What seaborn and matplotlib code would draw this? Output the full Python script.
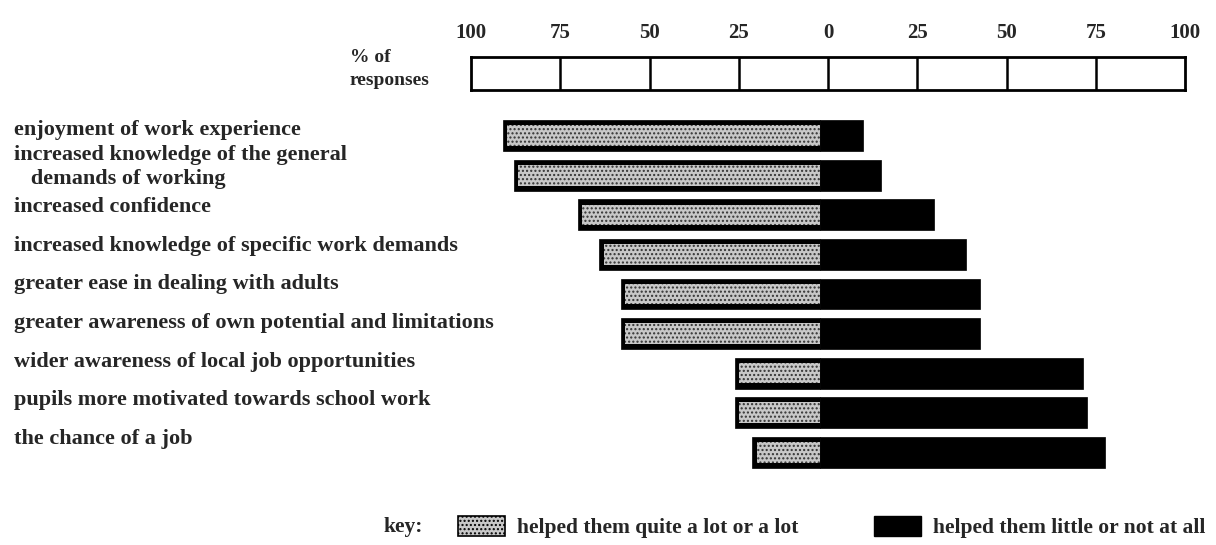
import numpy as np
import pandas as pd
import matplotlib
matplotlib.use("Agg")
import matplotlib.pyplot as plt
import matplotlib.transforms as mtransforms
from matplotlib.patches import Patch
import seaborn as sns

# % of responses per item
items = [
    "enjoyment of work experience",
    "increased knowledge of the general\n   demands of working",
    "increased confidence",
    "increased knowledge of specific work demands",
    "greater ease in dealing with adults",
    "greater awareness of own potential and limitations",
    "wider awareness of local job opportunities",
    "pupils more motivated towards school work",
    "the chance of a job",
]
helped_lot = [89, 86, 68, 62, 56, 56, 24, 24, 19]      # light, drawn to the left
helped_little = [12, 17, 32, 41, 45, 45, 74, 75, 80]   # black, drawn to the right
scale_ticks = [-100, -75, -50, -25, 0, 25, 50, 75, 100]
key_labels = ["helped them quite a lot or a lot", "helped them little or not at all"]

df = pd.DataFrame({"item": items, "lot": helped_lot, "little": helped_little})
df["lot_neg"] = -df["lot"]
df["lot_inner"] = -(df["lot"] - 1.2)

sns.set_style("white")
plt.rcParams["font.family"] = ["Liberation Serif", "DejaVu Serif"]
plt.rcParams["font.weight"] = "bold"
plt.rcParams["hatch.linewidth"] = 1.0

fig = plt.figure(figsize=(12.16, 5.45), dpi=100)
W, H = 1216, 545

# main bar axes
x0, x1 = 464, 1176
ax = fig.add_axes([x0 / W, 1 - 472 / H, (x1 - x0) / W, (472 - 116) / H])
sns.barplot(data=df, x="lot_neg", y="item", orient="h", color="black",
            saturation=1, width=0.78, ax=ax, edgecolor="black", linewidth=0.5)
sns.barplot(data=df, x="little", y="item", orient="h", color="black",
            saturation=1, width=0.78, ax=ax, edgecolor="black", linewidth=0.5)
sns.barplot(data=df, x="lot_inner", y="item", orient="h", color="#c8c8c8",
            saturation=1, width=0.52, ax=ax, edgecolor="#333333", linewidth=0,
            hatch="....")
ax.set_xlim(-100, 100)
ax.set_xlabel("")
ax.set_ylabel("")
ax.set_xticks([])
ax.set_yticks([])
for s in ax.spines.values():
    s.set_visible(False)

# item labels, left aligned at the page edge (scan drifts slightly upward)
trans = mtransforms.blended_transform_factory(fig.transFigure, ax.transData)
for i, name in enumerate(items):
    off = -(0.15 + 0.023 * i)
    if "\n" in name:
        off -= 0.03
    ax.text(14 / W, i + off, name, transform=trans, ha="left", va="center",
            fontsize=16, fontweight="bold", linespacing=1.25)

# scale box on top
axs = fig.add_axes([471 / W, 1 - 90 / H, (1185 - 471) / W, 33 / H])
axs.set_xlim(-100, 100)
axs.set_ylim(0, 1)
for t in scale_ticks[1:-1]:
    axs.axvline(t, color="black", lw=1.8)
axs.set_yticks([])
axs.set_xticks(scale_ticks)
axs.set_xticklabels([str(abs(t)) for t in scale_ticks], fontsize=15, fontweight="bold")
axs.xaxis.tick_top()
axs.tick_params(axis="x", length=0, pad=10)
for s in axs.spines.values():
    s.set_linewidth(2)
    s.set_color("black")

fig.text(350 / W, 1 - 69 / H, "% of\nresponses", ha="left", va="center",
         fontsize=14, fontweight="bold", linespacing=1.45)

# key
fig.text(383 / W, 1 - 527 / H, "key:", ha="left", va="center", fontsize=15.5,
         fontweight="bold")
handles = [
    Patch(facecolor="#c8c8c8", edgecolor="black", hatch="....", linewidth=1.2),
    Patch(facecolor="black", edgecolor="black"),
]
fig.legend(handles, key_labels, loc="center left",
           bbox_to_anchor=(458 / W, 1 - 527 / H), ncol=2, frameon=False,
           fontsize=15.5, handlelength=2.2, handleheight=1.05, handletextpad=0.55,
           columnspacing=3.5, borderpad=0, borderaxespad=0)

fig.savefig("out.png", dpi=100, facecolor="white")
